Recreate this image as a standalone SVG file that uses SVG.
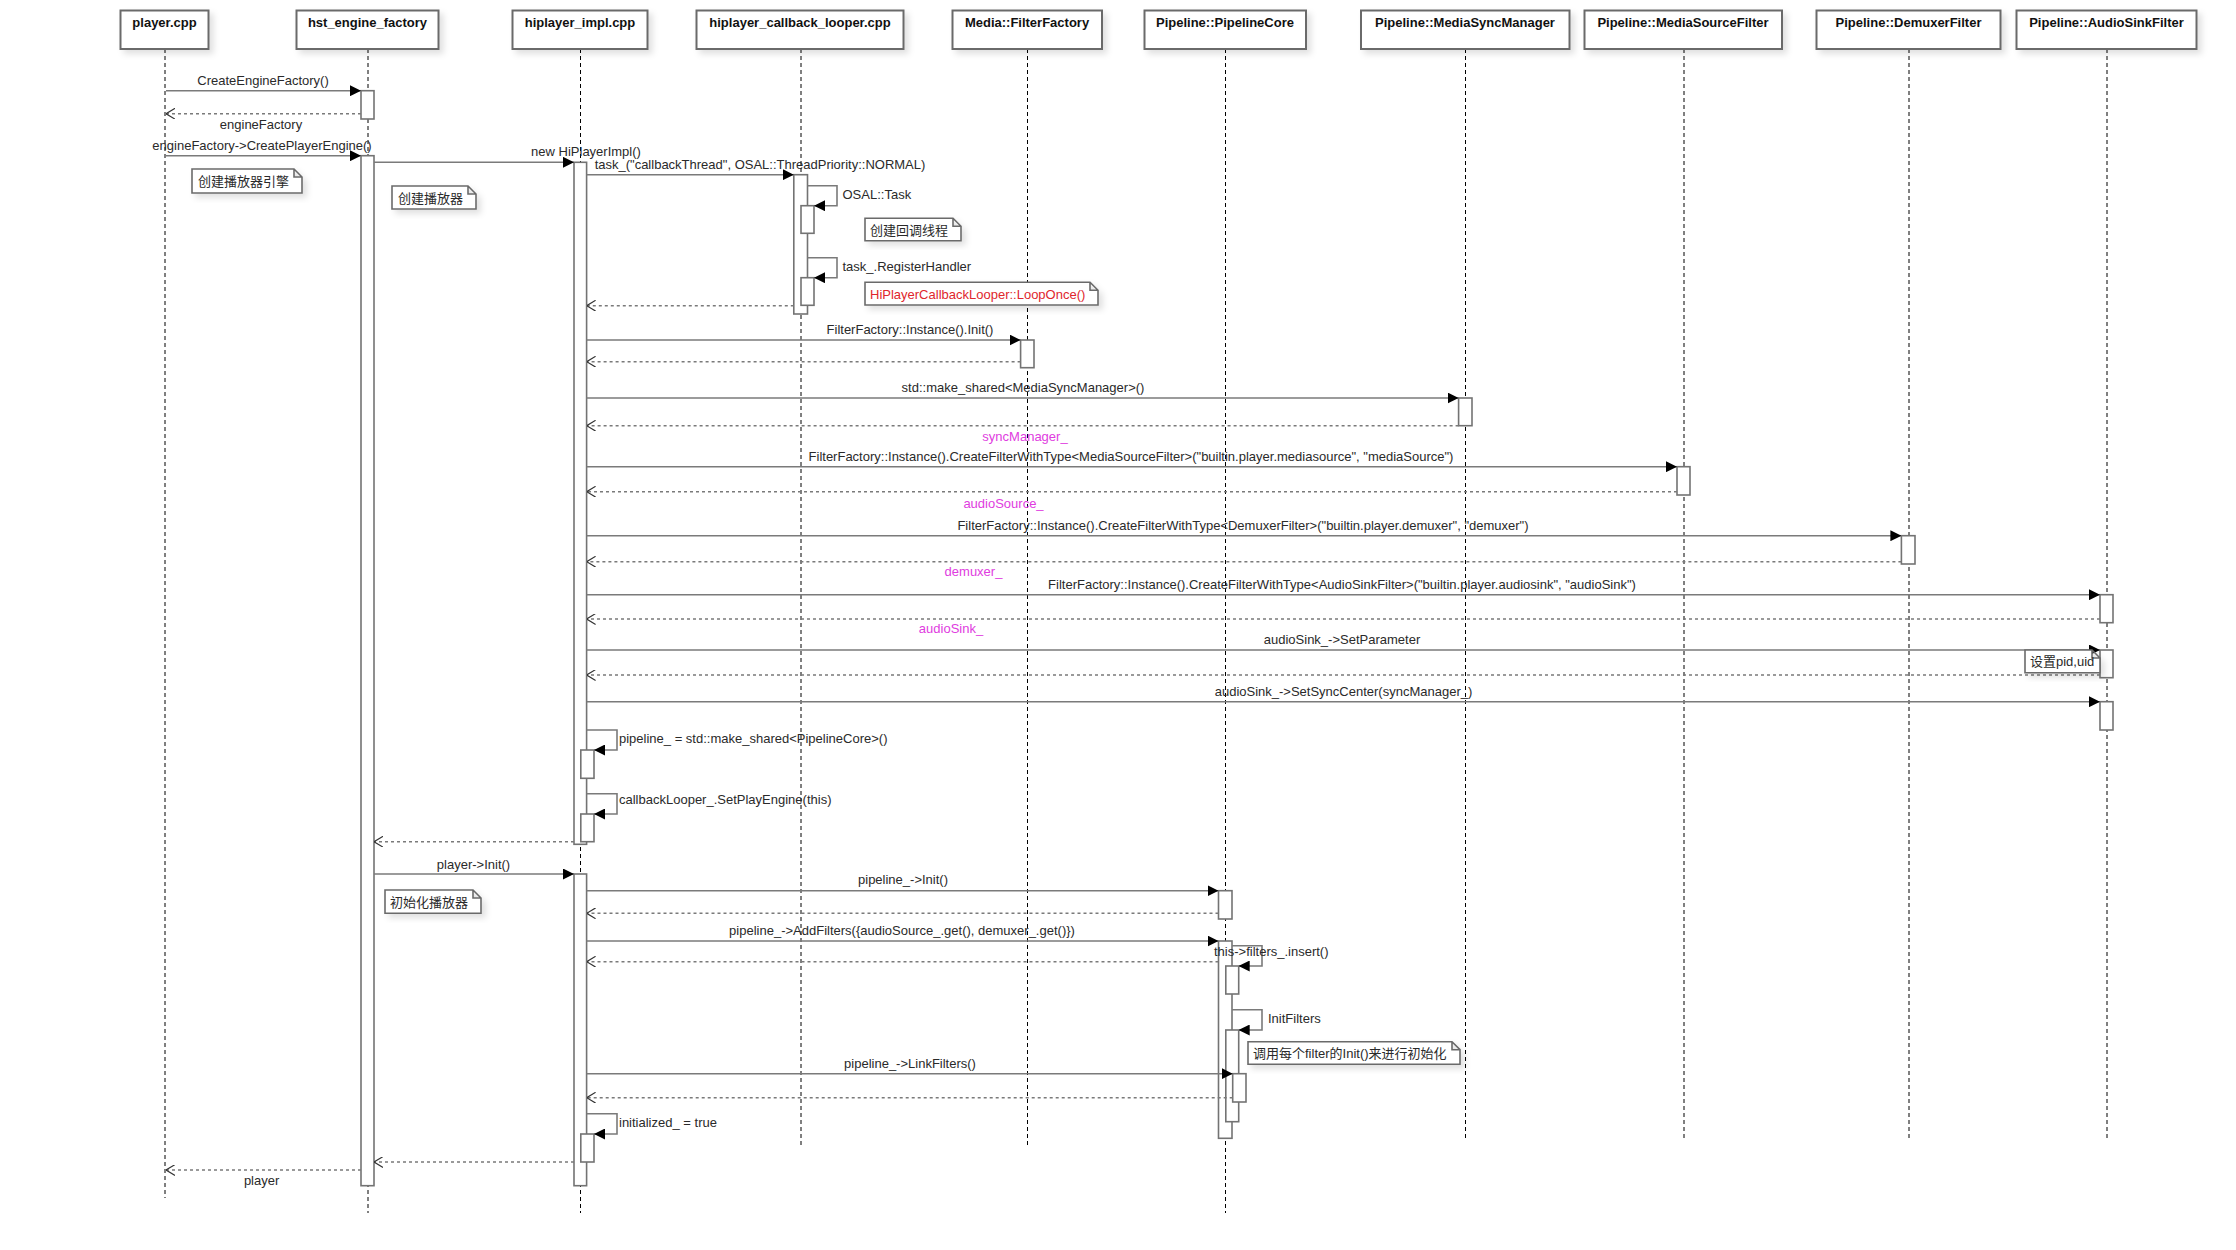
<svg xmlns="http://www.w3.org/2000/svg" width="2236" height="1250" viewBox="0 0 2236 1250">
<style>
.box{fill:#fff;stroke:#6b6b6b;stroke-width:2}
.title{font-family:"Liberation Sans",Arial,sans-serif;font-size:13px;font-weight:bold;fill:#111;text-anchor:middle}
.life{stroke:#000;stroke-width:1;stroke-dasharray:4 3;fill:none}
.act{fill:#fff;stroke:#737373;stroke-width:1.6}
.msg{stroke:#7a7a7a;stroke-width:1.6;fill:none}
.ret{stroke:#7a7a7a;stroke-width:1.6;stroke-dasharray:3 3;fill:none}
.lbl{font-family:"Liberation Sans",Arial,"Noto Sans CJK SC",sans-serif;font-size:13px;fill:#2a2a2a}
.c{text-anchor:middle}
.mag{fill:#e03ce0}
.red{fill:#e0262c}
.note{fill:#fff;stroke:#6b6b6b;stroke-width:1.6}
</style>
<defs>
<marker id="fa" viewBox="0 0 10 10" refX="10" refY="5" markerWidth="11" markerHeight="11" markerUnits="userSpaceOnUse" orient="auto"><path d="M0,0 L10,5 L0,10 z" fill="#000"/></marker>
<marker id="oa" viewBox="0 0 10 12" refX="10" refY="6" markerWidth="9" markerHeight="11" markerUnits="userSpaceOnUse" orient="auto"><path d="M0,0 L10,6 L0,12" fill="none" stroke="#333" stroke-width="1.3"/></marker>
<filter id="sh" x="-10%" y="-20%" width="130%" height="160%"><feDropShadow dx="4" dy="4" stdDeviation="3" flood-color="#000" flood-opacity="0.12"/></filter>
</defs>
<rect width="2236" height="1250" fill="#fff"/>

<!-- participants -->
<g id="player">
<line class="life" x1="165" y1="49" x2="165" y2="1198"/>
<rect class="box" filter="url(#sh)" x="120.5" y="10.5" width="88" height="38.5"/>
<text class="title" x="164.5" y="27">player.cpp</text>
</g>
<g id="hst_engine_factory">
<line class="life" x1="368" y1="49" x2="368" y2="1213"/>
<rect class="box" filter="url(#sh)" x="296.5" y="10.5" width="142" height="38.5"/>
<text class="title" x="367.5" y="27">hst_engine_factory</text>
<rect class="act" x="361" y="90.7" width="13" height="28.3"/>
<rect class="act" x="361" y="155.7" width="13" height="1030"/>
</g>
<g id="hiplayer_impl">
<line class="life" x1="580.5" y1="49" x2="580.5" y2="1213"/>
<rect class="box" filter="url(#sh)" x="512.5" y="10.5" width="135" height="38.5"/>
<text class="title" x="580" y="27">hiplayer_impl.cpp</text>
<rect class="act" x="574" y="162.3" width="12.6" height="682"/>
<rect class="act" x="574" y="874" width="12.6" height="311.7"/>
<rect class="act" x="580.8" y="750" width="13.2" height="28.3"/>
<rect class="act" x="580.8" y="814" width="13.2" height="27.7"/>
<rect class="act" x="580.8" y="1134" width="13.2" height="28"/>
</g>
<g id="hiplayer_callback_looper">
<line class="life" x1="801" y1="49" x2="801" y2="1146"/>
<rect class="box" filter="url(#sh)" x="696.5" y="10.5" width="207" height="38.5"/>
<text class="title" x="800" y="27">hiplayer_callback_looper.cpp</text>
<rect class="act" x="793.8" y="174.7" width="13.7" height="139.3"/>
<rect class="act" x="801" y="205.7" width="13" height="27.6"/>
<rect class="act" x="801" y="277.7" width="13" height="27.6"/>
</g>
<g id="FilterFactory">
<line class="life" x1="1027.5" y1="49" x2="1027.5" y2="1145"/>
<rect class="box" filter="url(#sh)" x="952.5" y="10.5" width="149.5" height="38.5"/>
<text class="title" x="1027" y="27">Media::FilterFactory</text>
<rect class="act" x="1020.6" y="340" width="13.4" height="27.7"/>
</g>
<g id="PipelineCore">
<line class="life" x1="1225.5" y1="49" x2="1225.5" y2="1213"/>
<rect class="box" filter="url(#sh)" x="1144.5" y="10.5" width="161.5" height="38.5"/>
<text class="title" x="1225" y="27">Pipeline::PipelineCore</text>
<rect class="act" x="1218.5" y="890.7" width="13.5" height="28.3"/>
<rect class="act" x="1218.5" y="941" width="13.5" height="197.3"/>
<rect class="act" x="1225.8" y="966" width="12.9" height="28"/>
<rect class="act" x="1225.8" y="1030" width="12.9" height="91.7"/>
<rect class="act" x="1232.7" y="1073.7" width="13.3" height="28.3"/>
</g>
<g id="MediaSyncManager">
<line class="life" x1="1465.5" y1="49" x2="1465.5" y2="1140"/>
<rect class="box" filter="url(#sh)" x="1361" y="10.5" width="208.5" height="38.5"/>
<text class="title" x="1465" y="27">Pipeline::MediaSyncManager</text>
<rect class="act" x="1458.6" y="398" width="13.4" height="27.7"/>
</g>
<g id="MediaSourceFilter">
<line class="life" x1="1684" y1="49" x2="1684" y2="1140"/>
<rect class="box" filter="url(#sh)" x="1584.5" y="10.5" width="197.5" height="38.5"/>
<text class="title" x="1683" y="27">Pipeline::MediaSourceFilter</text>
<rect class="act" x="1677" y="466.7" width="13" height="28.3"/>
</g>
<g id="DemuxerFilter">
<line class="life" x1="1909" y1="49" x2="1909" y2="1140"/>
<rect class="box" filter="url(#sh)" x="1816.5" y="10.5" width="184" height="38.5"/>
<text class="title" x="1908.5" y="27">Pipeline::DemuxerFilter</text>
<rect class="act" x="1901.4" y="535.7" width="13.6" height="28.3"/>
</g>
<g id="AudioSinkFilter">
<line class="life" x1="2107" y1="49" x2="2107" y2="1140"/>
<rect class="box" filter="url(#sh)" x="2016.5" y="10.5" width="180" height="38.5"/>
<text class="title" x="2106.5" y="27">Pipeline::AudioSinkFilter</text>
<rect class="act" x="2100" y="594.7" width="13" height="28"/>
<rect class="act" x="2100" y="650" width="13" height="27.7"/>
<rect class="act" x="2100" y="701.7" width="13" height="28.3"/>
</g>

<!-- connectors -->
<g id="connectors">
<line class="msg" x1="166" y1="90.7" x2="361" y2="90.7" marker-end="url(#fa)"/>
<line class="ret" x1="361" y1="113.7" x2="166" y2="113.7" marker-end="url(#oa)"/>
<line class="msg" x1="166" y1="155.7" x2="361" y2="155.7" marker-end="url(#fa)"/>
<line class="msg" x1="374" y1="162.3" x2="574" y2="162.3" marker-end="url(#fa)"/>
<line class="msg" x1="586.6" y1="174.7" x2="793.8" y2="174.7" marker-end="url(#fa)"/>
<path class="msg" d="M807.5,185.7 H837 V205.7 H814" marker-end="url(#fa)"/>
<path class="msg" d="M807.5,257.7 H837 V277.7 H814" marker-end="url(#fa)"/>
<line class="ret" x1="793.8" y1="305.7" x2="586.6" y2="305.7" marker-end="url(#oa)"/>
<line class="msg" x1="586.6" y1="340" x2="1020.6" y2="340" marker-end="url(#fa)"/>
<line class="ret" x1="1020.6" y1="361.7" x2="586.6" y2="361.7" marker-end="url(#oa)"/>
<line class="msg" x1="586.6" y1="398" x2="1458.6" y2="398" marker-end="url(#fa)"/>
<line class="ret" x1="1458.6" y1="425.7" x2="586.6" y2="425.7" marker-end="url(#oa)"/>
<line class="msg" x1="586.6" y1="466.7" x2="1677" y2="466.7" marker-end="url(#fa)"/>
<line class="ret" x1="1677" y1="491.7" x2="586.6" y2="491.7" marker-end="url(#oa)"/>
<line class="msg" x1="586.6" y1="535.7" x2="1901.4" y2="535.7" marker-end="url(#fa)"/>
<line class="ret" x1="1901.4" y1="561.7" x2="586.6" y2="561.7" marker-end="url(#oa)"/>
<line class="msg" x1="586.6" y1="594.7" x2="2100" y2="594.7" marker-end="url(#fa)"/>
<line class="ret" x1="2100" y1="619" x2="586.6" y2="619" marker-end="url(#oa)"/>
<line class="msg" x1="586.6" y1="650" x2="2100" y2="650" marker-end="url(#fa)"/>
<line class="ret" x1="2100" y1="675" x2="586.6" y2="675" marker-end="url(#oa)"/>
<line class="msg" x1="586.6" y1="701.7" x2="2100" y2="701.7" marker-end="url(#fa)"/>
<path class="msg" d="M586.6,730 H617 V750 H594" marker-end="url(#fa)"/>
<path class="msg" d="M586.6,793.7 H617 V814 H594" marker-end="url(#fa)"/>
<line class="ret" x1="574" y1="841.7" x2="374" y2="841.7" marker-end="url(#oa)"/>
<line class="msg" x1="374" y1="874" x2="574" y2="874" marker-end="url(#fa)"/>
<line class="msg" x1="586.6" y1="890.7" x2="1218.5" y2="890.7" marker-end="url(#fa)"/>
<line class="ret" x1="1218.5" y1="913.3" x2="586.6" y2="913.3" marker-end="url(#oa)"/>
<line class="msg" x1="586.6" y1="941" x2="1218.5" y2="941" marker-end="url(#fa)"/>
<path class="msg" d="M1232,945.7 H1262 V966 H1238.7" marker-end="url(#fa)"/>
<line class="ret" x1="1218.5" y1="961.7" x2="586.6" y2="961.7" marker-end="url(#oa)"/>
<path class="msg" d="M1232,1009.7 H1262 V1030 H1238.7" marker-end="url(#fa)"/>
<line class="msg" x1="586.6" y1="1073.7" x2="1232.7" y2="1073.7" marker-end="url(#fa)"/>
<line class="ret" x1="1232.7" y1="1097.7" x2="586.6" y2="1097.7" marker-end="url(#oa)"/>
<path class="msg" d="M586.6,1113.7 H617 V1134 H594" marker-end="url(#fa)"/>
<line class="ret" x1="574" y1="1162" x2="374" y2="1162" marker-end="url(#oa)"/>
<line class="ret" x1="361" y1="1170" x2="166" y2="1170" marker-end="url(#oa)"/>
</g>

<!-- labels -->
<g id="labels">
<text class="lbl c" x="263" y="85">CreateEngineFactory()</text>
<text class="lbl c" x="261" y="128.5">engineFactory</text>
<text class="lbl c" x="262" y="150">engineFactory-&gt;CreatePlayerEngine()</text>
<text class="lbl c" x="586" y="156">new HiPlayerImpl()</text>
<text class="lbl c" x="760" y="169">task_("callbackThread", OSAL::ThreadPriority::NORMAL)</text>
<text class="lbl" x="842.5" y="198.5">OSAL::Task</text>
<text class="lbl" x="842.5" y="271">task_.RegisterHandler</text>
<text class="lbl c" x="910" y="334">FilterFactory::Instance().Init()</text>
<text class="lbl c" x="1023" y="392">std::make_shared&lt;MediaSyncManager&gt;()</text>
<text class="lbl c mag" x="1025" y="440.5">syncManager_</text>
<text class="lbl c" x="1131" y="460.5">FilterFactory::Instance().CreateFilterWithType&lt;MediaSourceFilter&gt;("builtin.player.mediasource", "mediaSource")</text>
<text class="lbl c mag" x="1003.5" y="508">audioSource_</text>
<text class="lbl c" x="1243" y="530">FilterFactory::Instance().CreateFilterWithType&lt;DemuxerFilter&gt;("builtin.player.demuxer", "demuxer")</text>
<text class="lbl c mag" x="973.5" y="576">demuxer_</text>
<text class="lbl c" x="1342" y="589">FilterFactory::Instance().CreateFilterWithType&lt;AudioSinkFilter&gt;("builtin.player.audiosink", "audioSink")</text>
<text class="lbl c mag" x="951" y="633">audioSink_</text>
<text class="lbl c" x="1342" y="644">audioSink_-&gt;SetParameter</text>
<text class="lbl c" x="1343.5" y="696">audioSink_-&gt;SetSyncCenter(syncManager_)</text>
<text class="lbl" x="619" y="743">pipeline_ = std::make_shared&lt;PipelineCore&gt;()</text>
<text class="lbl" x="619" y="804">callbackLooper_.SetPlayEngine(this)</text>
<text class="lbl c" x="473.5" y="868.5">player-&gt;Init()</text>
<text class="lbl c" x="903" y="884">pipeline_-&gt;Init()</text>
<text class="lbl c" x="902" y="935">pipeline_-&gt;AddFilters({audioSource_.get(), demuxer_.get()})</text>
<text class="lbl" x="1214" y="956">this-&gt;filters_.insert()</text>
<text class="lbl" x="1268" y="1023">InitFilters</text>
<text class="lbl c" x="910" y="1068">pipeline_-&gt;LinkFilters()</text>
<text class="lbl" x="619" y="1127">initialized_ = true</text>
<text class="lbl c" x="261.6" y="1184.5">player</text>
</g>

<!-- notes -->
<g id="note-engine">
<path class="note" filter="url(#sh)" d="M192,169 H294 L302,177 V193 H192 Z M294,169 V177 H302"/>
<text class="lbl" x="198" y="186">创建播放器引擎</text>
</g>
<g id="note-player">
<path class="note" filter="url(#sh)" d="M392,186 H468 L476,194 V209 H392 Z M468,186 V194 H476"/>
<text class="lbl" x="398" y="202.5">创建播放器</text>
</g>
<g id="note-thread">
<path class="note" filter="url(#sh)" d="M865,218.3 H953 L961,226.3 V240.7 H865 Z M953,218.3 V226.3 H961"/>
<text class="lbl" x="870" y="234.5">创建回调线程</text>
</g>
<g id="note-looponce">
<path class="note" filter="url(#sh)" d="M865,282.3 H1090 L1098,290.3 V305 H865 Z M1090,282.3 V290.3 H1098"/>
<text class="lbl red" x="870" y="298.5">HiPlayerCallbackLooper::LoopOnce()</text>
</g>
<g id="note-pid">
<path class="note" filter="url(#sh)" d="M2025,650 H2092 L2100,658 V672.7 H2025 Z M2092,650 V658 H2100"/>
<text class="lbl" x="2030" y="666">设置pid,uid</text>
</g>
<g id="note-init">
<path class="note" filter="url(#sh)" d="M385,890 H473 L481,898 V913.3 H385 Z M473,890 V898 H481"/>
<text class="lbl" x="390" y="906.5">初始化播放器</text>
</g>
<g id="note-initfilters">
<path class="note" filter="url(#sh)" d="M1248,1041.7 H1452 L1460,1049.7 V1064.3 H1248 Z M1452,1041.7 V1049.7 H1460"/>
<text class="lbl" x="1253" y="1058">调用每个filter的Init()来进行初始化</text>
</g>
</svg>
